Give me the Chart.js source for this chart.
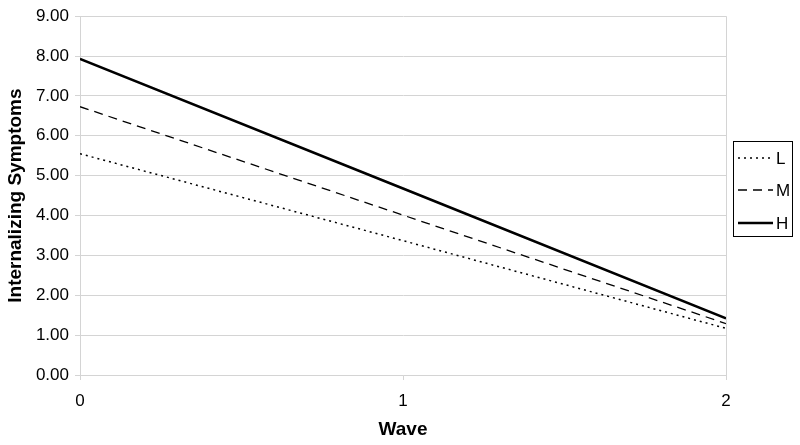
<!DOCTYPE html>
<html>
<head>
<meta charset="utf-8">
<script src="https://cdn.jsdelivr.net/npm/chart.js@4"></script>
<style>
  html, body { margin: 0; padding: 0; background: #fff; }
  #wrap { width: 800px; height: 445px; position: relative; }
</style>
</head>
<body>
<div id="wrap"><canvas id="chart"></canvas></div>
<script>
// Wave 0..2
const waves = [0, 1, 2];
const seriesNames = ["L", "M", "H"];
const lowValues = [5.55, 3.37, 1.17];
const medValues = [6.73, 4.01, 1.29];
const highValues = [7.93, 4.68, 1.42];
const yTicks = [0, 1, 2, 3, 4, 5, 6, 7, 8, 9];

const GRID = "#d4d4d4";
const FONT = "'Liberation Sans', Arial, sans-serif";

const toPoints = (vals) => vals.map((v, i) => ({ x: waves[i], y: v }));

// Legend box on the right, drawn like the original
const boxLegend = {
  id: "boxLegend",
  afterDraw(chart) {
    const ctx = chart.ctx;
    const x0 = 733, y0 = 141, w = 59, h = 95;
    ctx.save();
    ctx.strokeStyle = "#000";
    ctx.lineWidth = 1;
    ctx.strokeRect(x0 + 0.5, y0 + 0.5, w, h);
    const rows = [158, 190, 223];
    chart.data.datasets.forEach((ds, i) => {
      const y = rows[i];
      ctx.beginPath();
      ctx.strokeStyle = ds.borderColor;
      ctx.lineWidth = ds.borderWidth;
      ctx.setLineDash(ds.borderDash || []);
      ctx.moveTo(x0 + 5, y);
      ctx.lineTo(x0 + 40, y);
      ctx.stroke();
      ctx.setLineDash([]);
      ctx.fillStyle = "#000";
      ctx.font = "17px " + FONT;
      ctx.textBaseline = "middle";
      ctx.fillText(ds.label, x0 + 43, y + 1);
    });
    ctx.restore();
  }
};

new Chart(document.getElementById("chart"), {
  type: "line",
  data: {
    datasets: [
      { label: seriesNames[0], data: toPoints(lowValues), borderColor: "#000", borderWidth: 1.5, borderDash: [2, 4] },
      { label: seriesNames[1], data: toPoints(medValues), borderColor: "#000", borderWidth: 1.3, borderDash: [9, 6] },
      { label: seriesNames[2], data: toPoints(highValues), borderColor: "#000", borderWidth: 2.6, borderDash: [] }
    ]
  },
  options: {
    responsive: true,
    maintainAspectRatio: false,
    animation: false,
    elements: { point: { radius: 0 }, line: { tension: 0 } },
    layout: { padding: { top: 16, right: 74, left: 0, bottom: 0 } },
    plugins: { legend: { display: false }, tooltip: { enabled: false } },
    scales: {
      x: {
        type: "linear",
        min: 0,
        max: 2,
        afterFit: (s) => { s.height = 70; },
        ticks: {
          stepSize: 1,
          color: "#000",
          font: { family: FONT, size: 17 },
          padding: 11,
          callback: (v) => String(v)
        },
        grid: {
          color: (c) => (c.tick && c.tick.value === 2 ? GRID : "rgba(0,0,0,0)"),
          tickColor: GRID,
          tickLength: 5
        },
        border: { color: GRID },
        title: {
          display: true,
          text: "Wave",
          color: "#000",
          font: { family: FONT, size: 19, weight: "bold" },
          padding: { top: 12 }
        }
      },
      y: {
        min: 0,
        max: 9,
        afterFit: (s) => { s.width = 80; },
        afterBuildTicks: (s) => { s.ticks = yTicks.map((v) => ({ value: v })); },
        ticks: {
          color: "#000",
          font: { family: FONT, size: 17 },
          padding: 6,
          callback: (v) => Number(v).toFixed(2)
        },
        grid: { color: GRID, tickColor: GRID, tickLength: 5 },
        border: { color: GRID },
        title: {
          display: true,
          text: "Internalizing Symptoms",
          color: "#000",
          font: { family: FONT, size: 19, weight: "bold" },
          padding: { top: 4, bottom: 4 }
        }
      }
    }
  },
  plugins: [boxLegend]
});
</script>
</body>
</html>
